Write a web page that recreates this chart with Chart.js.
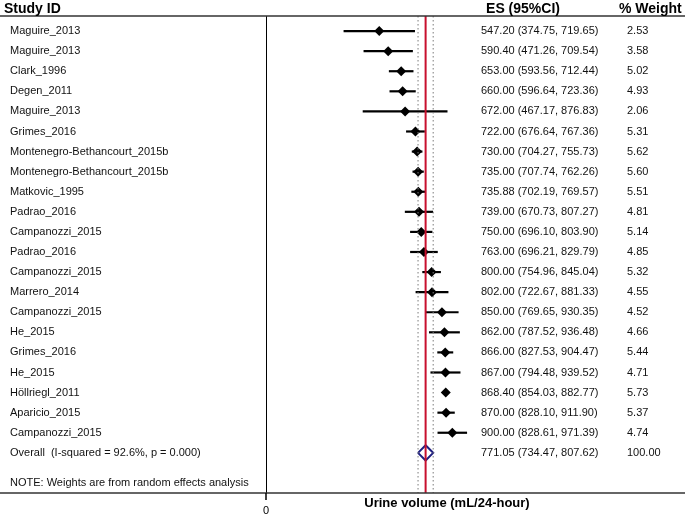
<!DOCTYPE html>
<html>
<head>
<meta charset="utf-8">
<script src="https://cdn.jsdelivr.net/npm/chart.js@4/dist/chart.umd.min.js"></script>
<style>
html,body{margin:0;padding:0;background:#fff;}
canvas{display:block;}
</style>
</head>
<body>
<canvas id="c" width="685" height="516"></canvas>
<script>
const studies = ["Maguire_2013","Maguire_2013","Clark_1996","Degen_2011","Maguire_2013","Grimes_2016",
  "Montenegro-Bethancourt_2015b","Montenegro-Bethancourt_2015b","Matkovic_1995","Padrao_2016",
  "Campanozzi_2015","Padrao_2016","Campanozzi_2015","Marrero_2014","Campanozzi_2015","He_2015",
  "Grimes_2016","He_2015","Höllriegl_2011","Aparicio_2015","Campanozzi_2015"];
const es = [547.20,590.40,653.00,660.00,672.00,722.00,730.00,735.00,735.88,739.00,750.00,763.00,
  800.00,802.00,850.00,862.00,866.00,867.00,868.40,870.00,900.00];
const lo = [374.75,471.26,593.56,596.64,467.17,676.64,704.27,707.74,702.19,670.73,696.10,696.21,
  754.96,722.67,769.65,787.52,827.53,794.48,854.03,828.10,828.61];
const hi = [719.65,709.54,712.44,723.36,876.83,767.36,755.73,762.26,769.57,807.27,803.90,829.79,
  845.04,881.33,930.35,936.48,904.47,939.52,882.77,911.90,971.39];
const weights = [2.53,3.58,5.02,4.93,2.06,5.31,5.62,5.60,5.51,4.81,5.14,4.85,5.32,4.55,4.52,4.66,
  5.44,4.71,5.73,5.37,4.74];
const overallLabel = "Overall  (I-squared = 92.6%, p = 0.000)";
const overallES = 771.05, overallLo = 734.47, overallHi = 807.62, overallWeight = 100.00;
const noteText = "NOTE: Weights are from random effects analysis";
const xTicks = [0];
const xTitle = "Urine volume (mL/24-hour)";

const Y_MIN = -0.75, Y_MAX = 23.0;
const overallRow = studies.length;
const noteRow = studies.length + 1.5;

const datasets = [];
// reference vertical lines
datasets.push({type:'line', data:[{x:0,y:Y_MIN},{x:0,y:Y_MAX}], borderColor:'#000', borderWidth:2, pointRadius:0});
datasets.push({type:'line', data:[{x:overallLo,y:Y_MIN},{x:overallLo,y:Y_MAX}], borderColor:'#7a7a7a', borderWidth:1, borderDash:[1.5,2.5], pointRadius:0});
datasets.push({type:'line', data:[{x:overallHi,y:Y_MIN},{x:overallHi,y:Y_MAX}], borderColor:'#7a7a7a', borderWidth:1, borderDash:[1.5,2.5], pointRadius:0});
datasets.push({type:'line', data:[{x:overallES,y:Y_MIN},{x:overallES,y:Y_MAX}], borderColor:'#c8102e', borderWidth:2, pointRadius:0});
// CI lines
for (let i=0;i<studies.length;i++){
  datasets.push({type:'line', data:[{x:lo[i],y:i},{x:hi[i],y:i}], borderColor:'#000', borderWidth:2.2, pointRadius:0});
}
// point estimates
datasets.push({type:'scatter', data:es.map((v,i)=>({x:v,y:i})), pointStyle:'rectRot', pointRadius:5,
  backgroundColor:'#000', borderColor:'#000', borderWidth:0});
// overall diamond
const dh = 0.38;
datasets.push({type:'line', data:[{x:overallLo,y:overallRow},{x:overallES,y:overallRow-dh},{x:overallHi,y:overallRow},{x:overallES,y:overallRow+dh},{x:overallLo,y:overallRow}],
  borderColor:'#1f1f80', borderWidth:2, pointRadius:0, tension:0});

const FONT = '"Liberation Sans", Arial, sans-serif';
const textPlugin = {
  id:'forestText',
  afterDraw(chart){
    const ctx = chart.ctx, ys = chart.scales.y, xs = chart.scales.x, ca = chart.chartArea;
    ctx.save();
    // header & bottom lines across full width
    ctx.strokeStyle = '#333'; ctx.lineWidth = 1.6;
    ctx.beginPath(); ctx.moveTo(0, ca.top); ctx.lineTo(685, ca.top); ctx.stroke();
    ctx.beginPath(); ctx.moveTo(0, ca.bottom); ctx.lineTo(685, ca.bottom); ctx.stroke();
    // x ticks and labels
    ctx.strokeStyle = '#000'; ctx.lineWidth = 1.5;
    ctx.fillStyle = '#000';
    ctx.font = '11px ' + FONT;
    ctx.textAlign = 'center'; ctx.textBaseline = 'middle';
    xTicks.forEach(v=>{
      const px = xs.getPixelForValue(v);
      ctx.beginPath(); ctx.moveTo(px, ca.bottom); ctx.lineTo(px, ca.bottom+7); ctx.stroke();
      ctx.fillText(String(v), px, ca.bottom+18);
    });
    // headers
    ctx.textBaseline = 'middle';
    ctx.font = 'bold 14px ' + FONT;
    ctx.textAlign = 'left';
    ctx.fillText('Study ID', 4, 9);
    ctx.textAlign = 'center';
    ctx.fillText('ES (95%CI)', 523, 9);
    ctx.textAlign = 'left';
    ctx.fillText('% Weight', 619, 9);
    // rows
    ctx.font = '11px ' + FONT;
    ctx.fillStyle = '#111';
    for (let i=0;i<studies.length;i++){
      const y = ys.getPixelForValue(i);
      ctx.textAlign = 'left';
      ctx.fillText(studies[i], 10, y);
      ctx.fillText(es[i].toFixed(2)+' ('+lo[i].toFixed(2)+', '+hi[i].toFixed(2)+')', 481, y);
      ctx.fillText(weights[i].toFixed(2), 627, y);
    }
    const yo = ys.getPixelForValue(overallRow);
    ctx.fillText(overallLabel, 10, yo);
    ctx.fillText(overallES.toFixed(2)+' ('+overallLo.toFixed(2)+', '+overallHi.toFixed(2)+')', 481, yo);
    ctx.fillText(overallWeight.toFixed(2), 627, yo);
    ctx.fillText(noteText, 10, ys.getPixelForValue(noteRow));
    // axis title
    ctx.font = 'bold 13px ' + FONT;
    ctx.fillStyle = '#000';
    ctx.textAlign = 'center';
    ctx.fillText(xTitle, 447, 503);
    ctx.restore();
  }
};

new Chart(document.getElementById('c'), {
  data:{datasets},
  options:{
    responsive:false, animation:false,
    layout:{padding:{left:266, right:0, top:16, bottom:23}},
    plugins:{legend:{display:false}, tooltip:{enabled:false}, title:{display:false}},
    scales:{
      x:{type:'linear', display:false, min:0, max:2000},
      y:{type:'linear', display:false, min:Y_MIN, max:Y_MAX, reverse:true}
    }
  },
  plugins:[textPlugin]
});
</script>
</body>
</html>
